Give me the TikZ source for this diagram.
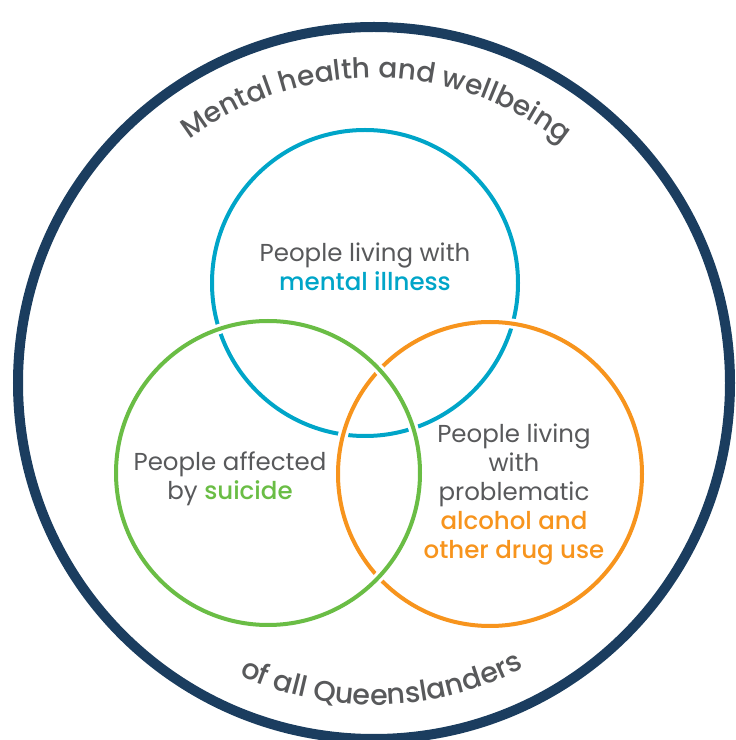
\documentclass[tikz,border=0pt]{standalone}
\usepackage{fontspec}
\setmainfont{Poppins}[BoldFont=* Medium]
\newfontfamily\arcfont{Poppins Medium}
\usepackage{xcolor}
\usetikzlibrary{calc, decorations.text}

\definecolor{navy}{HTML}{1B3D5F}
\definecolor{mhblue}{HTML}{00A5C8}
\definecolor{suigreen}{HTML}{6ABD45}
\definecolor{aodorange}{HTML}{F7941D}
\definecolor{txtgray}{HTML}{58595B}

\begin{document}
\begin{tikzpicture}[x=1pt,y=1pt]
\useasboundingbox (0,0) rectangle (736,740);
% centres of the rings
\coordinate (whole) at (374,357);
\coordinate (mh) at (365,457);
\coordinate (sui) at (268,267);
\coordinate (aod) at (490,266);
% outer ring
\draw[navy, line width=10pt] (whole) circle (356pt);
% venn rings, later ones pass over earlier ones
\draw[mhblue, line width=4pt] (mh) circle (153pt);
\draw[white, line width=10pt] (aod) circle (152pt);
\draw[aodorange, line width=4pt] (aod) circle (152pt);
\draw[white, line width=10pt] (sui) circle (152pt);
\draw[suigreen, line width=4pt] (sui) circle (152pt);
% labels inside the rings
\node[txtgray, align=center, font=\fontsize{24.5}{29}\selectfont] (mhtext) at (365,473)
  {People living with\\\textbf{\color{mhblue}mental illness}};
\node[txtgray, align=center, font=\fontsize{24.5}{29}\selectfont] (suitext) at (230,261)
  {People affected\\by \textbf{\color{suigreen}suicide}};
\node[txtgray, align=center, font=\fontsize{24.5}{29}\selectfont] (aodtext) at (514,245)
  {People living\\with\\problematic\\\textbf{\color{aodorange}alcohol and}\\\textbf{\color{aodorange}other drug use}};
% curved titles along the outer ring
\path[decorate, decoration={text along path, text align=center,
  text={|\arcfont\fontsize{28}{28}\selectfont\color{txtgray}|Mental health and wellbeing}}]
  ($(whole)+(131:305pt)$) arc[start angle=131, end angle=48, radius=305pt];
\path[decorate, decoration={text along path, text align=center,
  text={|\arcfont\fontsize{28.5}{28.5}\selectfont\color{txtgray}|of all Queenslanders}}]
  ($(whole)+(-121:322pt)$) arc[start angle=-121, end angle=-56, radius=322pt];
\end{tikzpicture}
\end{document}
